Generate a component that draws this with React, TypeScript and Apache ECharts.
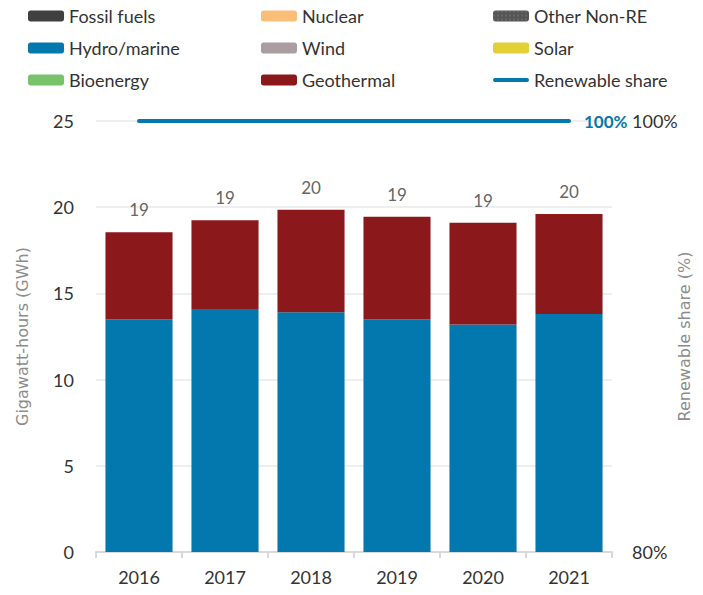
import React, { useEffect, useRef } from "react";
import * as echarts from "echarts";

const categories = ["2016", "2017", "2018", "2019", "2020", "2021"];
const fossilFuels = [0, 0, 0, 0, 0, 0];
const nuclear = [0, 0, 0, 0, 0, 0];
const otherNonRE = [0, 0, 0, 0, 0, 0];
const hydroMarine = [13.5, 14.1, 13.9, 13.5, 13.2, 13.8];
const wind = [0, 0, 0, 0, 0, 0];
const solar = [0, 0, 0, 0, 0, 0];
const bioenergy = [0, 0, 0, 0, 0, 0];
const geothermal = [5.05, 5.15, 5.95, 5.95, 5.9, 5.8];
const renewableShare = [100, 100, 100, 100, 100, 100];

const FONT = "Lato";
const NAME_FONT = "DejaVu Sans";
const BLUE = "#0378AE";

export default function App() {
  const ref = useRef<HTMLDivElement>(null);
  useEffect(() => {
    if (!ref.current) return;
    const chart = echarts.init(ref.current, null, { renderer: "svg" });
    const totals = categories.map(
      (_, i) =>
        fossilFuels[i] + nuclear[i] + otherNonRE[i] + hydroMarine[i] + wind[i] + solar[i] + bioenergy[i] + geothermal[i]
    );
    const legendText = { fontFamily: FONT, fontSize: 18, color: "#333" };
    const legendCommon = {
      orient: "vertical" as const,
      top: 2,
      itemWidth: 36,
      itemHeight: 11,
      itemGap: 14,
      textStyle: legendText,
      selectedMode: false,
    };
    const lineIcon = "path://M2,0 L34,0 A2,2 0 0 1 34,4 L2,4 A2,2 0 0 1 2,0 Z";
    const stackBar = (name: string, data: number[], color: string, extra: any = {}) => ({
      name,
      type: "bar",
      stack: "gen",
      data,
      barCategoryGap: "22%",
      itemStyle: { color },
      ...extra,
    });
    chart.setOption({
      animation: false,
      textStyle: { fontFamily: FONT },
      legend: [
        { ...legendCommon, left: 23, data: ["Fossil fuels", "Hydro/marine", "Bioenergy"] },
        { ...legendCommon, left: 256, data: ["Nuclear", "Wind", "Geothermal"] },
        {
          ...legendCommon,
          left: 488,
          data: ["Other Non-RE", "Solar", { name: "Renewable share", icon: lineIcon }],
        },
      ],
      grid: { left: 96, right: 91, top: 121, bottom: 43, outerBoundsMode: "none" },
      xAxis: {
        type: "category",
        data: categories,
        axisLine: { lineStyle: { color: "#d9d9d9", width: 2 } },
        axisTick: { show: true, length: 6, lineStyle: { color: "#d9d9d9", width: 2 } },
        axisLabel: { fontFamily: FONT, fontSize: 18, color: "#333", margin: 16 },
      },
      yAxis: [
        {
          type: "value",
          min: 0,
          max: 25,
          interval: 5,
          name: "Gigawatt-hours (GWh)",
          nameLocation: "middle",
          nameGap: 66,
          nameMoveOverlap: false,
          nameTextStyle: { fontFamily: NAME_FONT, fontSize: 16, color: "#8c8c8c" },
          axisLine: { show: false },
          axisTick: { show: false },
          axisLabel: { fontFamily: FONT, fontSize: 18, color: "#333", margin: 22 },
          splitLine: { lineStyle: { color: "#eeeeee", width: 2 } },
        },
        {
          type: "value",
          min: 80,
          max: 100,
          interval: 20,
          name: "Renewable share (%)",
          nameLocation: "middle",
          nameGap: 64,
          nameRotate: 90,
          nameMoveOverlap: false,
          nameTextStyle: { fontFamily: NAME_FONT, fontSize: 16, color: "#8c8c8c" },
          axisLine: { show: false },
          axisTick: { show: false },
          axisLabel: { fontFamily: FONT, fontSize: 18, color: "#333", margin: 20, formatter: "{value}%" },
          splitLine: { show: false },
        },
      ],
      series: [
        stackBar("Fossil fuels", fossilFuels, "#404040"),
        stackBar("Nuclear", nuclear, "#FABE78"),
        stackBar("Other Non-RE", otherNonRE, "#555555", {
          itemStyle: {
            color: "#555555",
            decal: { symbol: "rect", color: "#9a9a9a", symbolSize: 0.5, dashArrayX: [2, 2], dashArrayY: [2, 2] },
          },
        }),
        stackBar("Hydro/marine", hydroMarine, BLUE),
        stackBar("Wind", wind, "#AA9EA1"),
        stackBar("Solar", solar, "#E3CF36"),
        stackBar("Bioenergy", bioenergy, "#78C26C"),
        stackBar("Geothermal", geothermal, "#8B181B", {
          label: {
            show: true,
            position: "top",
            distance: 14,
            fontFamily: FONT,
            fontSize: 17,
            color: "#666",
            formatter: (p: any) => String(Math.round(totals[p.dataIndex])),
          },
        }),
        {
          name: "Renewable share",
          type: "line",
          yAxisIndex: 1,
          symbol: "none",
          showSymbol: false,
          lineStyle: { color: BLUE, width: 4, cap: "round" },
          itemStyle: { color: BLUE },
          data: renewableShare,
          endLabel: {
            show: true,
            distance: 15,
            formatter: "{c}%",
            fontFamily: FONT,
            fontSize: 17,
            fontWeight: "bold",
            color: BLUE,
          },
        },
      ],
    });
    return () => chart.dispose();
  }, []);
  return <div ref={ref} style={{ width: 703, height: 595, margin: -8 }} />;
}
